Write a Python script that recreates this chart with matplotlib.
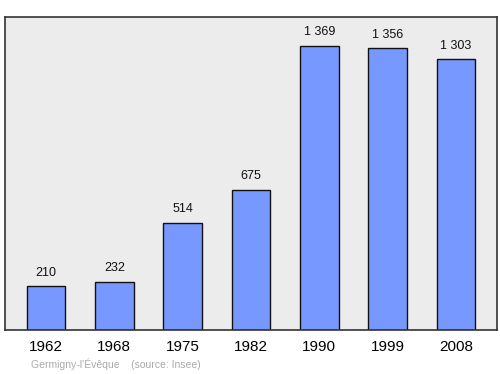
import matplotlib
matplotlib.use("Agg")
import matplotlib.pyplot as plt

plt.rcParams["font.family"] = ["Liberation Sans", "DejaVu Sans"]

years = ["1962", "1968", "1975", "1982", "1990", "1999", "2008"]
population = [210, 232, 514, 675, 1369, 1356, 1303]
value_labels = ["210", "232", "514", "675", "1 369", "1 356", "1 303"]

fig = plt.figure(figsize=(5.0, 3.74), dpi=100)
ax = fig.add_axes([0.01, 0.1176, 0.984, 0.8374])
ax.set_facecolor("#ececec")
x = list(range(len(years)))
ax.bar(x, population, width=0.57, color="#7799ff", edgecolor="#111111", linewidth=1.0, zorder=2)
for xi, v, lab in zip(x, population, value_labels):
    ax.text(xi, v + 38, lab, ha="center", va="bottom", fontsize=9, color="#111111")
ax.set_xlim(-0.6, 6.6)
ax.set_ylim(0, 1508)
ax.set_yticks([])
ax.set_xticks(x)
ax.set_xticklabels(years, fontsize=11)
ax.tick_params(axis="x", length=0, pad=7)
for s in ax.spines.values():
    s.set_color("#333333")
    s.set_linewidth(1.2)
fig.text(0.062, 0.012, "Germigny-l'Évêque    (source: Insee)", fontsize=7.5, color="#aaaaaa", ha="left", va="bottom")
fig.savefig("out.png", dpi=100)
